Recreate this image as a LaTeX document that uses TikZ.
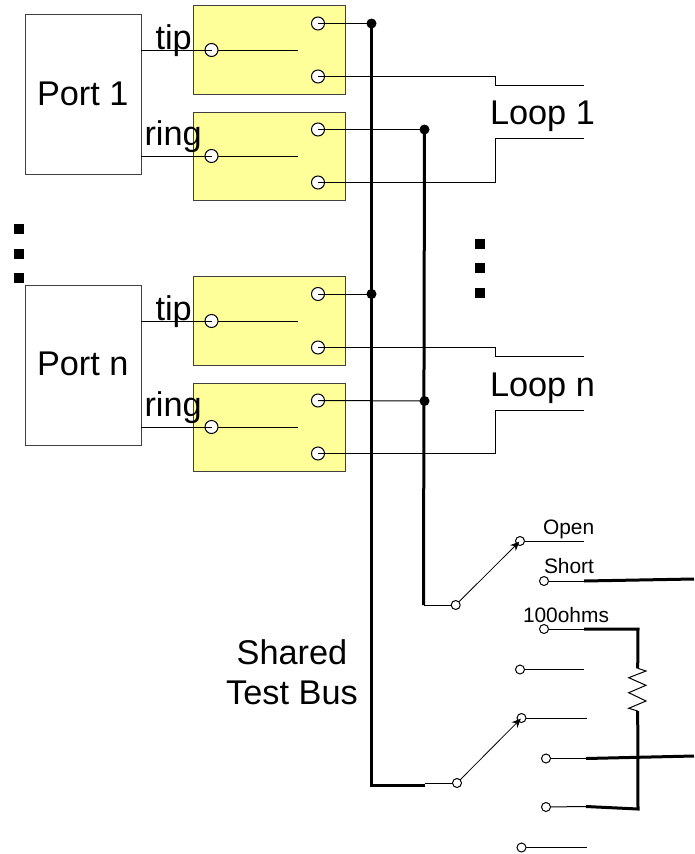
\documentclass[tikz,border=0pt]{standalone}
\usepackage{fontspec}
\setmainfont{Liberation Sans}
\usetikzlibrary{arrows.meta}
\definecolor{relayfill}{HTML}{FFFF99}
\tikzset{
  x=1pt,y=-1pt,
  thinw/.style={line width=1pt,line join=miter},
  thickw/.style={line width=3pt,line join=miter},
  portbox/.style={draw=black!75,line width=1pt,fill=white,inner sep=0,outer sep=0,minimum width=116pt,minimum height=159.5pt},
  relay/.style={draw=black!75,line width=1pt,fill=relayfill,inner sep=0,outer sep=0,minimum width=151.5pt,minimum height=88.5pt},
  term/.style={circle,draw=black,line width=1pt,fill=white,inner sep=0,outer sep=0,minimum size=13pt},
  sterm/.style={circle,draw=black,line width=1pt,fill=white,inner sep=0,outer sep=0,minimum size=9pt},
  jn/.style={circle,fill=black,inner sep=0,outer sep=0,minimum size=10pt},
  sq/.style={fill=black,inner sep=0,outer sep=0,minimum size=10pt},
  big/.style={inner sep=0,outer sep=0,anchor=base west,font=\fontsize{34.3}{34.3}\selectfont},
  small/.style={inner sep=0,outer sep=0,anchor=base west,font=\fontsize{20.9}{20.9}\selectfont},
  arm/.style={line width=0.8pt,shorten >=-3.5pt,-{Stealth[length=9pt,width=8pt]}},
}
\begin{document}
\begin{tikzpicture}
\useasboundingbox (0,0) rectangle (694,854);
% boxes
\node[portbox] (p1) at (83,94.25) {};
\node[portbox] (pn) at (83,365.25) {};
\node[relay] (r1) at (269.25,50) {};
\node[relay] (r2) at (269.25,156.25) {};
\node[relay] (r3) at (269.25,321) {};
\node[relay] (r4) at (269.25,427.5) {};
% named free ends
\coordinate (pt1) at (141,50);
\coordinate (pr1) at (141,156);
\coordinate (ptn) at (141,321);
\coordinate (prn) at (141,427);
\coordinate (c1) at (298,50);
\coordinate (c2) at (298,156);
\coordinate (c3) at (298,321);
\coordinate (c4) at (298,427);
\coordinate (l1a) at (495.5,76.5);
\coordinate (l1b) at (495.5,85.5);
\coordinate (l1c) at (584,85.5);
\coordinate (l1d) at (495.5,182.5);
\coordinate (l1e) at (495.5,138.5);
\coordinate (l1f) at (584,138.5);
\coordinate (lna) at (495.5,347.5);
\coordinate (lnb) at (495.5,356);
\coordinate (lnc) at (584,356);
\coordinate (lnd) at (495.5,453.5);
\coordinate (lne) at (495.5,410);
\coordinate (lnf) at (584,410);
\coordinate (j1) at (371.5,23.5);
\coordinate (j2) at (424.5,129.5);
\coordinate (j3) at (371.5,294);
\coordinate (j4) at (424.5,401);
\coordinate (b1) at (371.5,785);
\coordinate (b2) at (425,785);
\coordinate (b3) at (425,783);
\coordinate (b4) at (423.5,605);
\coordinate (w1) at (584,541);
\coordinate (w2a) at (584,581);
\coordinate (w2b) at (694,579);
\coordinate (w3a) at (584,629);
\coordinate (w3b) at (638,629);
\coordinate (z0) at (637.7,668.3);
\coordinate (z7) at (637.7,711);
\coordinate (w4) at (584,669.5);
\coordinate (w5) at (587,718);
\coordinate (w6a) at (586,758.5);
\coordinate (w6b) at (694,756);
\coordinate (w7a) at (586,806.5);
\coordinate (w7b) at (638,809);
\coordinate (w8) at (587,847.5);
% terminal positions
\coordinate (t1i) at (211.5,50);   \coordinate (t1a) at (318,23.5);  \coordinate (t1b) at (318,76.5);
\coordinate (t2i) at (211.5,156);  \coordinate (t2a) at (318,129.5); \coordinate (t2b) at (318,182.5);
\coordinate (t3i) at (211.5,321);  \coordinate (t3a) at (318,294);   \coordinate (t3b) at (318,347.5);
\coordinate (t4i) at (211.5,427);  \coordinate (t4a) at (318,400.5); \coordinate (t4b) at (318,453.5);
\coordinate (s1i) at (455.7,605);  \coordinate (s1o) at (520,541);
\coordinate (s2) at (544,581);     \coordinate (s3) at (544,629);    \coordinate (s4) at (520,669.5);
\coordinate (s5i) at (457,783);    \coordinate (s5o) at (521.5,718);
\coordinate (s6) at (546,758.5);   \coordinate (s7) at (546,807);    \coordinate (s8) at (521.5,847.5);
% relay terminals, below their wires
\foreach \n in {t1i,t1a,t1b,t2i,t2a,t2b,t3i,t3a,t3b,t4i,t4a,t4b}
  \node[term] (n\n) at (\n) {};
% thin wires
\draw[thinw] (pt1) -- (t1i);
\draw[thinw] (pr1) -- (t2i);
\draw[thinw] (ptn) -- (t3i);
\draw[thinw] (prn) -- (t4i);
\draw[thinw] (nt1i) -- (c1);
\draw[thinw] (nt2i) -- (c2);
\draw[thinw] (nt3i) -- (c3);
\draw[thinw] (nt4i) -- (c4);
\draw[thinw] (t1a) -- (j1);
\draw[thinw] (t2a) -- (j2);
\draw[thinw] (t3a) -- (j3);
\draw[thinw] (t4a) -- (j4);
\draw[thinw] (t1b) -- (l1a) -- (l1b) -- (l1c);
\draw[thinw] (t2b) -- (l1d) -- (l1e) -- (l1f);
\draw[thinw] (t3b) -- (lna) -- (lnb) -- (lnc);
\draw[thinw] (t4b) -- (lnd) -- (lne) -- (lnf);
% bus
\draw[thickw] (j1) -- (b1) -- (b2);
\draw[thickw] (j2) -- (b4);
\draw[thinw] (b4) -- (s1i);
\draw[thinw] (b3) -- (s5i);
% selector wires
\draw[thinw] (s1o) -- (w1);
\draw[thinw] (s2) -- (w2a);
\draw[thickw] (w2a) -- (w2b);
\draw[thinw] (s3) -- (w3a);
\draw[thickw] (w3a) -- (w3b) -- (z0);
\draw[thinw] (s4) -- (w4);
\draw[thinw] (s5o) -- (w5);
\draw[thinw] (s6) -- (w6a);
\draw[thickw] (w6a) -- (w6b);
\draw[thinw] (s7) -- (w7a);
\draw[thickw] (w7a) -- (w7b) -- (z7);
\draw[thinw] (s8) -- (w8);
% resistor
\draw[line width=1pt,line join=miter] (z0) -- (646,671) -- (628.7,677.7) -- (646,685.3) -- (628.7,692.7) -- (646,701) -- (628.7,708.3) -- (z7);
% selector terminals
\foreach \n in {s1i,s1o,s2,s3,s4,s5i,s5o,s6,s7,s8}
  \node[sterm] (n\n) at (\n) {};
% switch arms
\draw[arm] (ns1i) -- (ns1o);
\draw[arm] (ns5i) -- (ns5o);
% junctions
\node[jn] (dj1) at (j1) {};
\node[jn] (dj2) at (j2) {};
\node[jn] (dj3) at (j3) {};
\node[jn] (dj4) at (j4) {};
% ellipsis squares
\node[sq] (q1) at (19,229) {};
\node[sq] (q2) at (19,254) {};
\node[sq] (q3) at (19,278) {};
\node[sq] (q4) at (480,244) {};
\node[sq] (q5) at (480,268) {};
\node[sq] (q6) at (480,293) {};
% text
\node[big] (tx1) at (37,105) {Port 1};
\node[big] (tx2) at (37,375.5) {Port n};
\node[big] (tx3) at (155.5,49) {tip};
\node[big] (tx4) at (144.5,145) {ring};
\node[big] (tx5) at (155.5,320) {tip};
\node[big] (tx6) at (144.5,416) {ring};
\node[big] (tx7) at (490,124) {Loop 1};
\node[big] (tx8) at (490,396) {Loop n};
\node[big,anchor=base] (tx9) at (292,664) {Shared};
\node[big,anchor=base] (tx10) at (292,704) {Test Bus};
\node[small] (tx11) at (543,534) {Open};
\node[small] (tx12) at (544,573) {Short};
\node[small] (tx13) at (523,622) {100ohms};
\end{tikzpicture}
\end{document}
